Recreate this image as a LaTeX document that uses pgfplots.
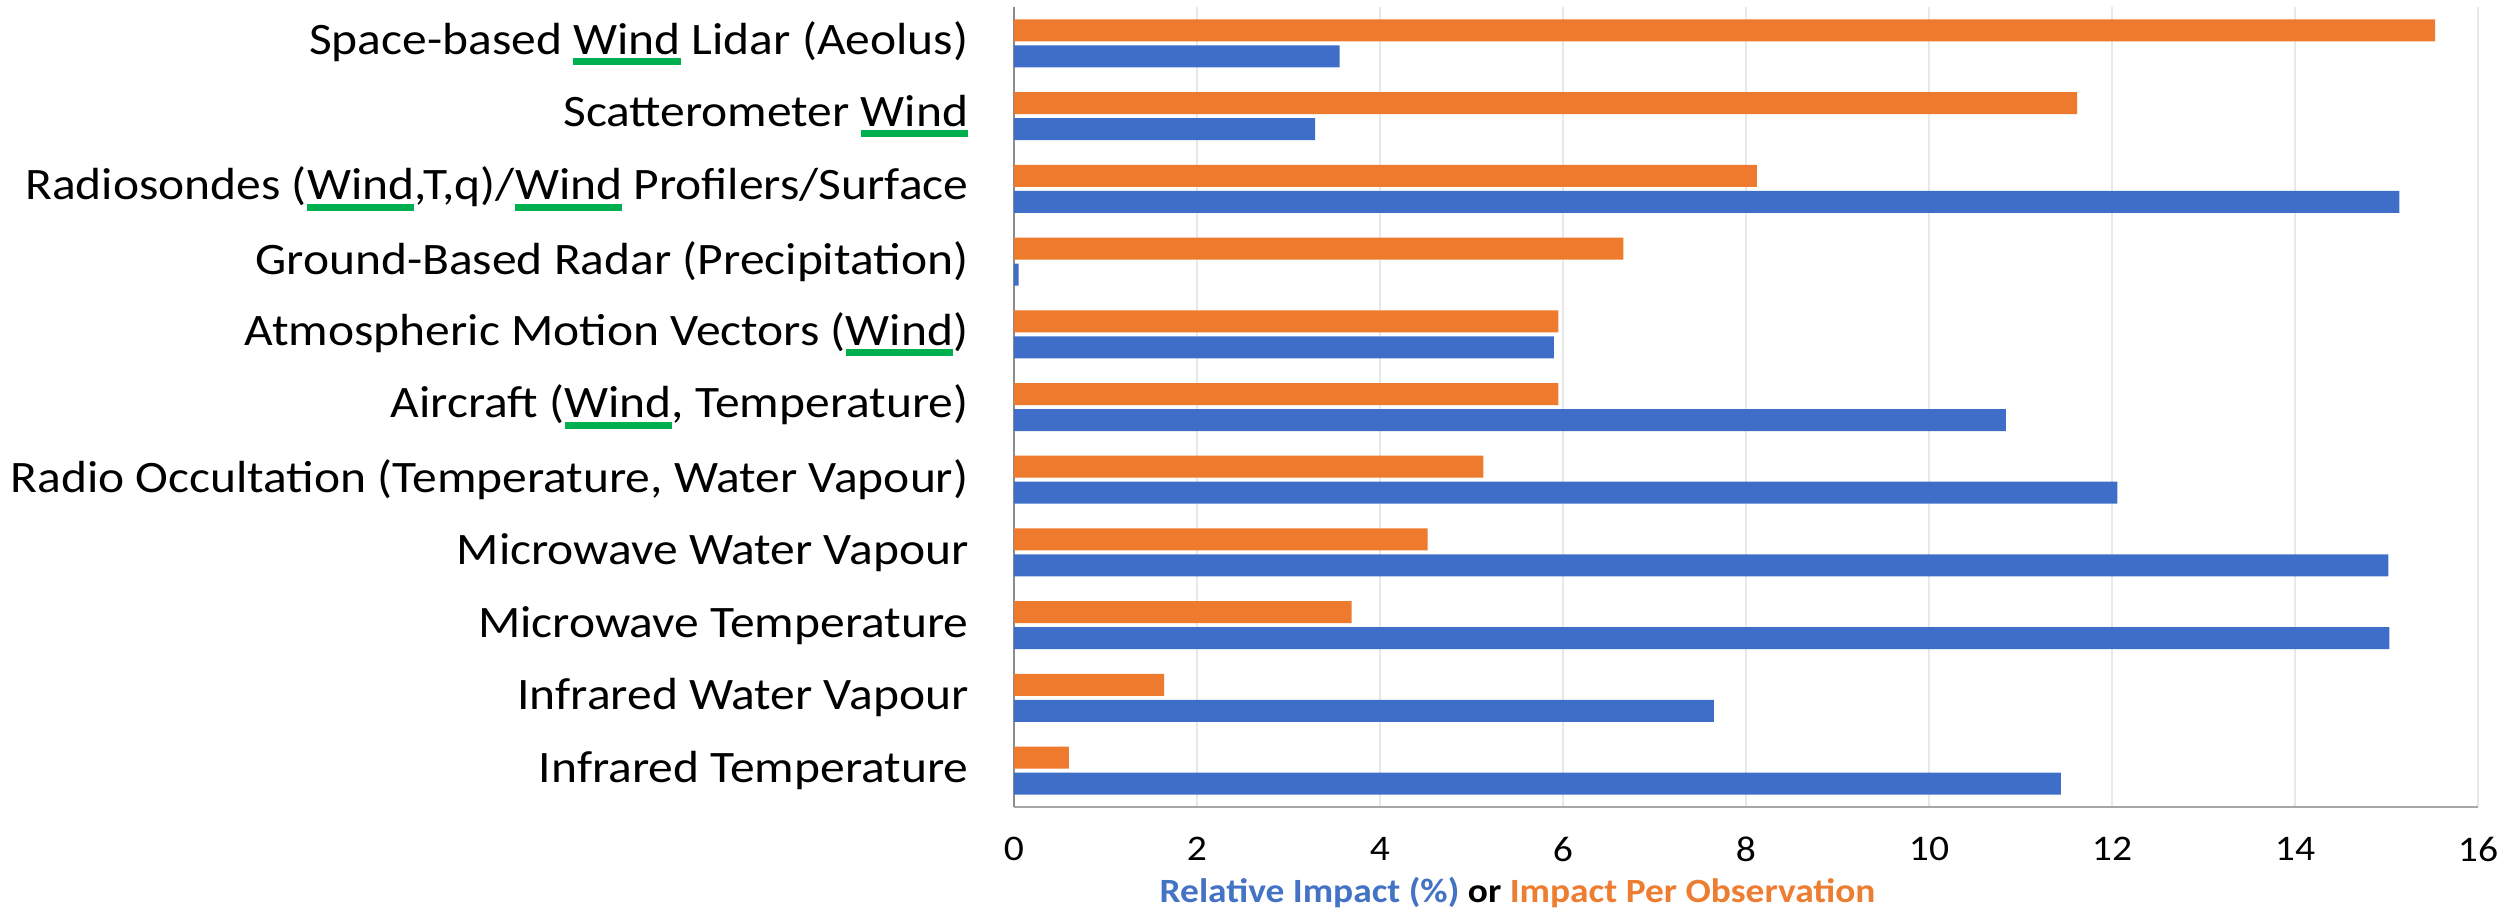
\documentclass[border=0pt]{standalone}
\usepackage{pgfplots}
\pgfplotsset{compat=1.18}
\usepackage{fontspec}
\setmainfont{Carlito}[FakeStretch=1.1]
\definecolor{wgreen}{RGB}{0,176,80}
\definecolor{oblue}{RGB}{68,114,196}
\definecolor{oorange}{RGB}{237,125,49}
\definecolor{barblue}{RGB}{62,110,200}
\definecolor{barorange}{RGB}{237,122,45}
\newcommand{\W}{\leavevmode\setbox0\hbox{Wind}\rlap{\textcolor{wgreen}{\rule[-3.3pt]{\wd0}{2.1pt}}}\box0}
\begin{document}
\begin{tikzpicture}
\begin{axis}[
  name=ax,
  scale only axis,
  width=439.2pt, height=240pt,
  xmin=0, xmax=16, ymin=-0.5, ymax=10.5,
  xtick={0,2,...,16},
  ytick={0,...,10},
  yticklabels={{Infrared Temperature},{Infrared Water Vapour},{Microwave Temperature},{Microwave Water Vapour},{Radio Occultation (Temperature, Water Vapour)},{Aircraft (\W, Temperature)},{Atmospheric Motion Vectors (\W)},{Ground-Based Radar (Precipitation)},{Radiosondes (\W,T,q)/\W\ Profilers/Surface},{Scatterometer \W},{Space-based \W\ Lidar (Aeolus)}},
  axis x line*=bottom, axis y line*=left,
  x axis line style={-, draw=gray!70}, y axis line style={-, draw=gray!90},
  major tick length=0pt,
  xmajorgrids, major grid style={draw=black!9, line width=0.6pt},
  /pgf/number format/assume math mode=true,
  yticklabel style={font=\fontsize{13.5}{15}\selectfont, anchor=east, inner sep=0pt, xshift=-13.5pt},
  xticklabel style={font=\fontsize{10.8}{12}\selectfont, anchor=center, inner sep=0pt, yshift=-12.6pt},
  xlabel={\textcolor{oblue}{Relative Impact (\%)} or \textcolor{oorange}{Impact Per Observation}},
  xlabel style={font=\bfseries\fontsize{10.2}{12}\selectfont, at={(rel axis cs:0.344,0)}, anchor=center, inner sep=0pt, yshift=-25.8pt},
  xbar, bar width=6.6pt,
]
\addplot[draw=none, fill=barorange, bar shift=3.9pt] coordinates {
 (0.60,0) (1.64,1) (3.69,2) (4.52,3) (5.13,4) (5.95,5) (5.95,6) (6.66,7) (8.12,8) (11.62,9) (15.53,10)};
\addplot[draw=none, fill=barblue, bar shift=-3.9pt] coordinates {
 (11.44,0) (7.65,1) (15.03,2) (15.02,3) (12.06,4) (10.84,5) (5.90,6) (0.05,7) (15.14,8) (3.29,9) (3.56,10)};
\end{axis}
\pgfresetboundingbox
\path ([xshift=-304.2pt, yshift=-31.8pt]ax.south west) rectangle ([xshift=10.2pt, yshift=2.1pt]ax.north east);
\end{tikzpicture}
\end{document}
